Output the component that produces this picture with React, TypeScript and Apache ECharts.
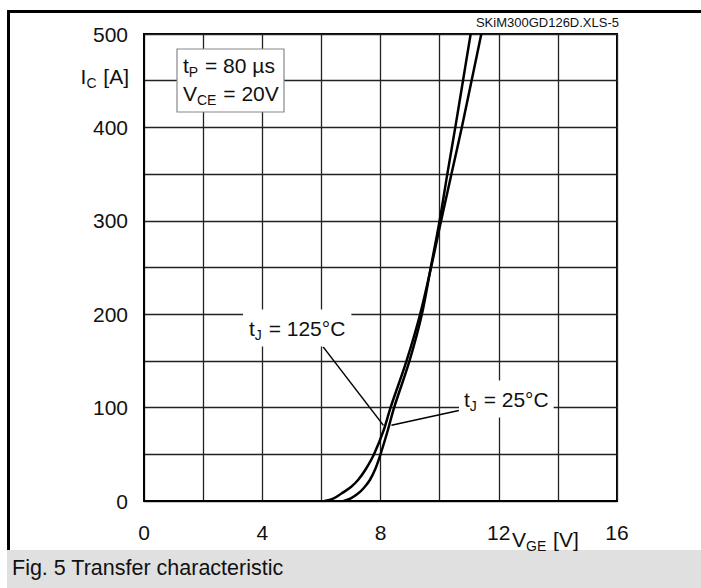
import React, { useEffect, useRef } from "react";
import * as echarts from "echarts";

const xTicks = [0, 4, 8, 12, 16];
const yTicks = [0, 100, 200, 300, 400, 500];
const tj125: [number, number][] = [
  [6.1, 0], [6.4, 2.5], [6.68, 8], [7.0, 15], [7.24, 22.5], [7.5, 34], [7.78, 50], [8.11, 76], [8.34, 100],
  [8.88, 150], [9.34, 200], [9.71, 250], [10.05, 300], [10.4, 350], [10.75, 400], [11.08, 450], [11.41, 500],
];
const tj25: [number, number][] = [
  [6.75, 0], [6.98, 2.5], [7.24, 8], [7.45, 14.5], [7.64, 22.5], [7.82, 34], [8.0, 50], [8.25, 76], [8.46, 100],
  [8.98, 150], [9.4, 200], [9.7, 250], [10.0, 300], [10.26, 350], [10.53, 400], [10.79, 450], [11.05, 500],
];
const leader125: [number, number][] = [[6.06, 165], [8.1, 81]];
const leader25: [number, number][] = [[10.65, 97], [8.37, 81]];

const FONT = "'Liberation Sans', Arial, sans-serif";

export default function App() {
  const ref = useRef<HTMLDivElement>(null);
  useEffect(() => {
    const chart = echarts.init(ref.current!, null, { renderer: "svg" });
    const sub = { fontSize: 14, fontFamily: FONT, color: "#111", verticalAlign: "bottom", padding: [0, 1, -3, 0] };
    const main = { fontSize: 21, fontFamily: FONT, color: "#111" };
    chart.setOption({
      animation: false,
      backgroundColor: "#fff",
      grid: { left: 144, top: 34, width: 473, height: 467, show: true, borderColor: "#000", borderWidth: 2, backgroundColor: "transparent" },
      xAxis: {
        type: "value", min: 0, max: 16, interval: 2,
        axisLine: { show: true, lineStyle: { color: "#000", width: 2 } },
        axisTick: { show: false },
        splitLine: { show: true, lineStyle: { color: "#222", width: 1.3 } },
        axisLabel: {
          margin: 21, fontSize: 21, fontFamily: FONT, color: "#111",
          formatter: (v: number) => (xTicks.includes(v) ? String(v) : ""),
        },
      },
      yAxis: {
        type: "value", min: 0, max: 500, interval: 50,
        axisLine: { show: true, lineStyle: { color: "#000", width: 2 } },
        axisTick: { show: false },
        splitLine: { show: true, lineStyle: { color: "#222", width: 1.3 } },
        axisLabel: {
          margin: 16, fontSize: 21, fontFamily: FONT, color: "#111",
          formatter: (v: number) => (yTicks.includes(v) ? String(v) : ""),
        },
      },
      series: [
        { name: "tJ = 125°C", type: "line", data: tj125, smooth: 0.35, symbol: "none", lineStyle: { color: "#000", width: 2.5 }, z: 5 },
        { name: "tJ = 25°C", type: "line", data: tj25, smooth: 0.35, symbol: "none", lineStyle: { color: "#000", width: 2.5 }, z: 5 },
        { type: "line", data: leader125, symbol: "none", lineStyle: { color: "#000", width: 1.5 }, z: 4 },
        { type: "line", data: leader25, symbol: "none", lineStyle: { color: "#000", width: 1.5 }, z: 4 },
      ],
      graphic: [
        { type: "rect", z: 1, shape: { x: 7, y: 10, width: 700, height: 3 }, style: { fill: "#000" } },
        { type: "rect", z: 1, shape: { x: 7, y: 10, width: 3, height: 540 }, style: { fill: "#000" } },
        { type: "rect", z: 1, shape: { x: 7, y: 550, width: 700, height: 40 }, style: { fill: "#e0e0e0" } },
        { type: "text", z: 10, x: 12, y: 568, style: { text: "Fig. 5 Transfer characteristic", fontSize: 21.5, fontFamily: FONT, fill: "#111", verticalAlign: "middle" } },
        { type: "text", z: 10, x: 619, y: 22, style: { text: "SKiM300GD126D.XLS-5", fontSize: 13, fontFamily: FONT, fill: "#111", align: "right", verticalAlign: "middle" } },
        { type: "rect", z: 10, shape: { x: 177, y: 49, width: 107, height: 63 }, style: { fill: "#fff", stroke: "#888", lineWidth: 1.2 } },
        { type: "text", z: 11, x: 183, y: 65, style: { text: "t{s|P} = 80 µs", verticalAlign: "middle", rich: { s: sub }, ...main, fill: "#111" } },
        { type: "text", z: 11, x: 183, y: 93, style: { text: "V{s|CE} = 20V", verticalAlign: "middle", rich: { s: sub }, ...main, fill: "#111" } },
        { type: "text", z: 11, x: 129, y: 76, style: { text: "I{s|C} [A]", align: "right", verticalAlign: "middle", rich: { s: sub }, ...main, fill: "#111" } },
        { type: "text", z: 11, x: 512, y: 539, style: { text: "V{s|GE} [V]", verticalAlign: "middle", rich: { s: sub }, ...main, fill: "#111" } },
        { type: "text", z: 11, x: 243, y: 328, style: { text: "t{s|J} = 125°C", verticalAlign: "middle", rich: { s: sub }, ...main, fill: "#111", backgroundColor: "#fff", padding: [8, 6] } },
        { type: "text", z: 11, x: 459, y: 399, style: { text: "t{s|J} = 25°C", verticalAlign: "middle", rich: { s: sub }, ...main, fill: "#111", backgroundColor: "#fff", padding: [8, 5] } },
      ],
    });
    return () => chart.dispose();
  }, []);
  return <div ref={ref} style={{ position: "fixed", left: 0, top: 0, width: 701, height: 588 }} />;
}
